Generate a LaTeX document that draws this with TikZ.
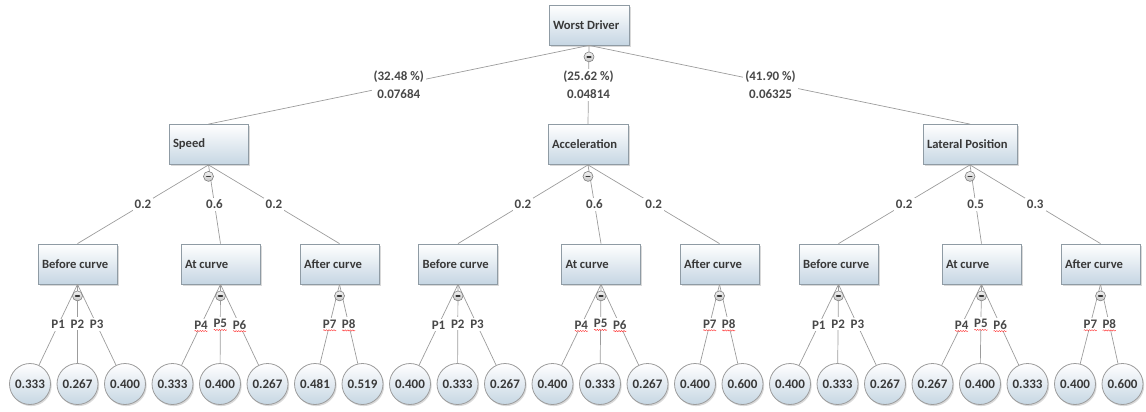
\documentclass[tikz,border=0pt]{standalone}
\usepackage{fontspec}
\setmainfont{Carlito}
\usetikzlibrary{positioning, shadows, decorations.pathmorphing}

\definecolor{boxblue}{HTML}{C6D6E3}
\definecolor{boxline}{HTML}{8F9BA4}
\definecolor{edgegray}{HTML}{9C9C9C}
\definecolor{txtgray}{HTML}{383838}
\definecolor{lblgray}{HTML}{484848}

\tikzset{
  crit/.style={draw=boxline, line width=0.8pt, top color=white, bottom color=boxblue,
    minimum height=40pt, text width=71pt, inner xsep=4pt, align=flush left, text=txtgray,
    font=\fontsize{12.6pt}{15pt}\selectfont\bfseries,
    drop shadow={shadow xshift=1.6pt, shadow yshift=-1.6pt, opacity=0.3}},
  leaf/.style={circle, draw=edgegray, line width=0.8pt, minimum size=41pt, inner sep=0pt,
    top color=white, bottom color=boxblue, text=txtgray,
    font=\fontsize{13pt}{15pt}\selectfont\bfseries,
    drop shadow={shadow xshift=1.2pt, shadow yshift=-1.6pt, opacity=0.3}},
  edge/.style={draw=edgegray, line width=0.7pt},
  wlab/.style={fill=white, inner sep=2pt, text=lblgray, align=center,
    font=\fontsize{13pt}{18pt}\selectfont\bfseries},
  minus/.style={circle, draw=gray, line width=0.6pt, minimum size=10pt, inner sep=0pt,
    top color=gray!10, bottom color=gray!45,
    path picture={\draw[txtgray, line width=1.7pt, line cap=round] (-1.8pt,0pt) -- (1.8pt,0pt);}},
  spell/.style={red!80, line width=0.4pt, decorate,
    decoration={snake, amplitude=0.6pt, segment length=2.5pt}}
}

\begin{document}
\begin{tikzpicture}[x=1pt, y=-1pt]
\useasboundingbox (0,0) rectangle (1146,412);

% Goal
\node[crit, text width=72pt] (wd) at (589,25) {Worst Driver};

% Criteria
\node[crit] (sp) at (208.5,144.5) {Speed};
\node[crit, text width=72pt] (ac) at (588,144.5) {Acceleration};
\node[crit, text width=86pt] (lp) at (970,144.5) {Lateral Position};

% Sub-criteria
\node[crit] (sb) at (77.5,264) {Before curve};
\node[crit] (sa) at (220.5,264) {At curve};
\node[crit] (sf) at (339.5,264) {After curve};
\node[crit] (ab) at (458,264) {Before curve};
\node[crit] (aa) at (601,264) {At curve};
\node[crit] (af) at (719.5,264) {After curve};
\node[crit] (lb) at (838.5,264) {Before curve};
\node[crit] (la) at (981.5,264) {At curve};
\node[crit] (lf) at (1100.5,264) {After curve};

% Goal weights
\draw[edge] (wd.south) -- node[wlab] {(32.48 \%)\\0.07684} (sp.north);
\draw[edge] (wd.south) -- node[wlab] {(25.62 \%)\\0.04814} (ac.north);
\draw[edge] (wd.south) -- node[wlab, xshift=-9pt] {(41.90 \%)\\0.06325} (lp.north);

% Criteria weights
\draw[edge] (sp.south) -- node[wlab] {0.2} (sb.north);
\draw[edge] (sp.south) -- node[wlab] {0.6} (sa.north);
\draw[edge] (sp.south) -- node[wlab] {0.2} (sf.north);
\draw[edge] (ac.south) -- node[wlab] {0.2} (ab.north);
\draw[edge] (ac.south) -- node[wlab] {0.6} (aa.north);
\draw[edge] (ac.south) -- node[wlab] {0.2} (af.north);
\draw[edge] (lp.south) -- node[wlab] {0.2} (lb.north);
\draw[edge] (lp.south) -- node[wlab] {0.5} (la.north);
\draw[edge] (lp.south) -- node[wlab] {0.3} (lf.north);

% Alternatives (leaves)
\foreach \i/\pr/\lab/\val/\wav in {
  0/sb/P1/0.333/0, 1/sb/P2/0.267/0, 2/sb/P3/0.400/0,
  3/sa/P4/0.333/1, 4/sa/P5/0.400/1, 5/sa/P6/0.267/1,
  6/sf/P7/0.481/1, 7/sf/P8/0.519/1,
  8/ab/P1/0.400/0, 9/ab/P2/0.333/0, 10/ab/P3/0.267/0,
  11/aa/P4/0.400/1, 12/aa/P5/0.333/1, 13/aa/P6/0.267/1,
  14/af/P7/0.400/1, 15/af/P8/0.600/1,
  16/lb/P1/0.400/0, 17/lb/P2/0.333/0, 18/lb/P3/0.267/0,
  19/la/P4/0.267/1, 20/la/P5/0.400/1, 21/la/P6/0.333/1,
  22/lf/P7/0.400/1, 23/lf/P8/0.600/1}{
  \pgfmathsetmacro\lx{30+47.5*\i}
  \node[leaf] (l\i) at (\lx,384) {\val};
  \draw[edge] (\pr.south) -- node[wlab] (p\i) {\lab} (l\i);
  \ifnum\wav=1
    \draw[spell] ([xshift=2.5pt,yshift=-2pt]p\i.base west) -- ([xshift=-2.5pt,yshift=-2pt]p\i.base east);
  \fi
}

% Collapse buttons
\foreach \b in {wd,sp,ac,lp,sb,sa,sf,ab,aa,af,lb,la,lf}
  \node[minus] (m\b) at ([yshift=-11.5pt]\b.south) {};
\end{tikzpicture}
\end{document}
